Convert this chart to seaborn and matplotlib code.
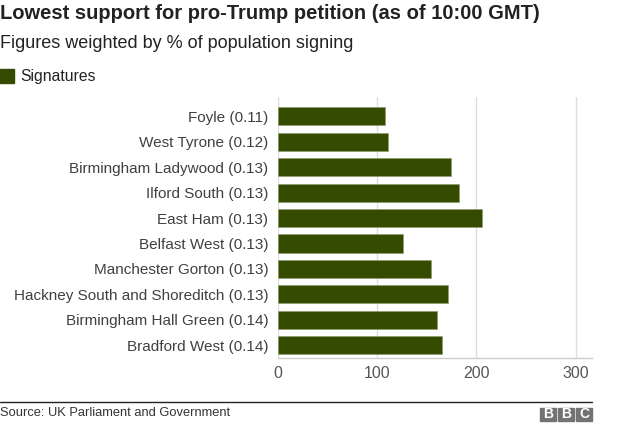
import matplotlib
matplotlib.use("Agg")
import matplotlib.pyplot as plt
import matplotlib.patches as mpatches
import pandas as pd
import seaborn as sns

# datos
areas = ["Foyle (0.11)", "West Tyrone (0.12)", "Birmingham Ladywood (0.13)",
         "Ilford South (0.13)", "East Ham (0.13)", "Belfast West (0.13)",
         "Manchester Gorton (0.13)", "Hackney South and Shoreditch (0.13)",
         "Birmingham Hall Green (0.14)", "Bradford West (0.14)"]
firmas = [108, 111, 174, 182, 206, 126, 154, 171, 160, 165]
ticks_x = [0, 100, 200, 300]

df = pd.DataFrame({"Area": areas, "Signatures": firmas})

sns.set_theme(style="white")
plt.rcParams["font.family"] = ["Liberation Sans", "DejaVu Sans"]

verde = "#344b00"

fig = plt.figure(figsize=(6.24, 4.26), dpi=100)
ax = fig.add_axes([0.4455, 0.1596, 0.5025, 0.6124])

sns.barplot(data=df, x="Signatures", y="Area", color=verde, width=0.71,
            saturation=1, ax=ax, edgecolor="#8a9a6a", linewidth=0.4)

ax.set_xlim(0, 316)
ax.set_ylim(9.5, -0.75)
ax.set_xticks(ticks_x)
ax.set_xticklabels([str(t) for t in ticks_x], fontsize=11.5, color="#555555")
ax.tick_params(axis="y", labelsize=11, labelcolor="#404040", length=0, pad=7)
ax.tick_params(axis="x", length=0, pad=6)
ax.set_xlabel("")
ax.set_ylabel("")
ax.grid(axis="x", color="#dddddd", linewidth=1)
ax.set_axisbelow(True)
for lado in ["top", "right", "left"]:
    ax.spines[lado].set_visible(False)
ax.spines["bottom"].set_color("#cccccc")
ax.spines["bottom"].set_linewidth(1)

# titulos
fig.text(0.0, 0.99, "Lowest support for pro-Trump petition (as of 10:00 GMT)",
         fontsize=14.5, fontweight="bold", color="#222222", va="top", ha="left")
fig.text(0.0, 0.918, "Figures weighted by % of population signing",
         fontsize=13, color="#222222", va="top", ha="left")

# leyenda
fig.patches.append(mpatches.Rectangle((0.0, 1 - 83 / 426), 14 / 624, 14 / 426,
                                      transform=fig.transFigure, color=verde))
fig.text(20 / 624, 1 - 76 / 426, "Signatures", fontsize=11.3, color="#222222",
         va="center", ha="left")

# pie
fig.add_artist(plt.Line2D([0, 592 / 624], [1 - 402 / 426, 1 - 402 / 426],
                          transform=fig.transFigure, color="#222222", linewidth=1))
fig.text(0.0, 1 - 413 / 426, "Source: UK Parliament and Government",
         fontsize=9.3, color="#333333", va="center", ha="left")
for i, letra in enumerate("BBC"):
    x0 = (540 + i * 18) / 624
    fig.patches.append(mpatches.Rectangle((x0, 1 - 421 / 426), 16 / 624, 13 / 426,
                                          transform=fig.transFigure, color="#737373"))
    fig.text(x0 + 8 / 624, 1 - 414.5 / 426, letra, fontsize=10, fontweight="bold",
             color="white", va="center", ha="center")

fig.savefig("out.png", dpi=100)
